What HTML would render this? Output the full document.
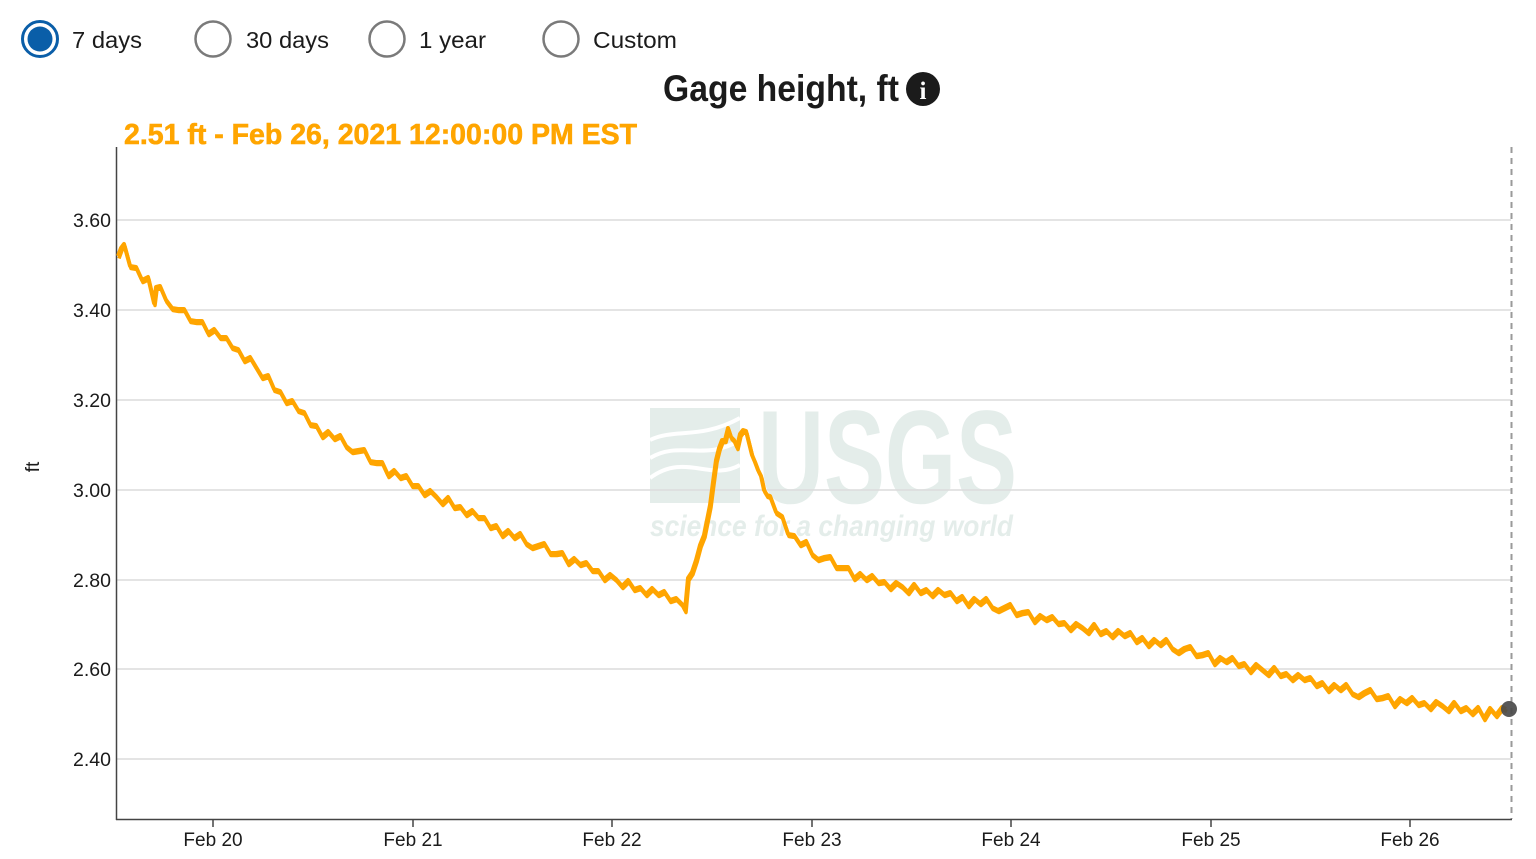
<!DOCTYPE html>
<html>
<head>
<meta charset="utf-8">
<style>
html,body{margin:0;padding:0;background:#fff;}
svg{display:block;}
</style>
</head>
<body>
<svg width="1536" height="859" viewBox="0 0 1536 859" xmlns="http://www.w3.org/2000/svg" font-family="'Liberation Sans', sans-serif">
  <defs>
    <path id="series" d="M118,256 L121,248 L124,244 L130,266 L136,267 L142,280 L148,277 L154,303 L156,287 L160,286 L166,300 L172,308 L178,309 L184,309 L190,320 L196,321 L202,321 L208,333 L214,329 L220,337 L226,337 L232,347 L238,349 L244,360 L250,357 L256,367 L262,377 L268,375 L274,389 L280,391 L286,402 L292,400 L298,410 L304,412 L310,424 L316,425 L322,436 L328,431 L334,438 L340,435 L346,446 L352,451 L358,450 L364,449 L370,461 L376,462 L382,462 L388,475 L394,470 L400,477 L406,475 L412,485 L418,485 L424,494 L430,490 L436,496 L442,503 L448,497 L454,507 L460,506 L466,514 L472,510 L478,517 L484,517 L490,527 L496,525 L502,535 L508,530 L514,537 L520,533 L526,543 L532,547 L538,545 L544,543 L550,553 L556,553 L562,552 L568,563 L574,558 L580,564 L586,562 L592,570 L598,570 L604,579 L610,574 L616,579 L622,586 L628,580 L634,589 L640,587 L646,594 L652,588 L658,594 L664,591 L670,600 L676,598 L682,604 L685,610 L688,578 L692,572 L696,560 L700,545 L704,535 L707,520 L710,505 L713,482 L716,460 L719,448 L722,440 L725,440 L728,428 L731,437 L734,440 L737,447 L740,434 L743,430 L746,431 L749,443 L752,455 L755,462 L758,470 L761,476 L764,490 L767,495 L770,496 L776,512 L782,516 L788,534 L794,535 L800,544 L806,541 L812,554 L818,559 L824,557 L830,556 L836,567 L842,567 L848,567 L854,578 L860,573 L866,579 L872,575 L878,582 L884,581 L890,588 L896,582 L902,586 L908,592 L914,584 L920,592 L926,589 L932,595 L938,589 L944,594 L950,592 L956,600 L962,596 L968,605 L974,598 L980,603 L986,598 L992,607 L998,610 L1004,607 L1010,604 L1016,614 L1022,612 L1028,611 L1034,621 L1040,615 L1046,619 L1052,616 L1058,623 L1064,622 L1070,629 L1076,623 L1082,627 L1088,632 L1094,624 L1100,633 L1106,630 L1112,636 L1118,630 L1124,635 L1130,632 L1136,641 L1142,637 L1148,645 L1154,639 L1160,644 L1166,639 L1172,648 L1178,652 L1184,648 L1190,646 L1196,655 L1202,654 L1208,652 L1214,663 L1220,657 L1226,661 L1232,657 L1238,665 L1244,663 L1250,671 L1256,664 L1262,669 L1268,674 L1274,667 L1280,675 L1286,673 L1292,679 L1298,674 L1304,679 L1310,677 L1316,685 L1322,682 L1328,690 L1334,684 L1340,689 L1346,684 L1352,693 L1358,696 L1364,692 L1370,689 L1376,698 L1382,697 L1388,695 L1394,705 L1400,698 L1406,702 L1412,697 L1418,704 L1424,702 L1430,708 L1436,701 L1442,705 L1448,710 L1454,702 L1460,710 L1466,707 L1472,713 L1478,707 L1484,718 L1490,708 L1496,715 L1502,707 L1506,709"/>
  </defs>
  <rect width="1536" height="859" fill="#fff"/>

  <!-- radio buttons -->
  <circle cx="40" cy="39" r="17.5" fill="#fff" stroke="#0a5ea8" stroke-width="3"/>
  <circle cx="40" cy="39" r="12.5" fill="#0a5ea8"/>
  <text x="72" y="48" font-size="23" fill="#1b1b1b" textLength="70" lengthAdjust="spacingAndGlyphs">7 days</text>

  <circle cx="213" cy="39" r="17.5" fill="#fff" stroke="#7a7a7a" stroke-width="2.5"/>
  <text x="246" y="48" font-size="23" fill="#1b1b1b" textLength="83" lengthAdjust="spacingAndGlyphs">30 days</text>

  <circle cx="387" cy="39" r="17.5" fill="#fff" stroke="#7a7a7a" stroke-width="2.5"/>
  <text x="419" y="48" font-size="23" fill="#1b1b1b" textLength="67" lengthAdjust="spacingAndGlyphs">1 year</text>

  <circle cx="561" cy="39" r="17.5" fill="#fff" stroke="#7a7a7a" stroke-width="2.5"/>
  <text x="593" y="48" font-size="23" fill="#1b1b1b" textLength="84" lengthAdjust="spacingAndGlyphs">Custom</text>

  <!-- title -->
  <text x="663" y="101" font-size="37" font-weight="bold" fill="#1b1b1b" textLength="236" lengthAdjust="spacingAndGlyphs">Gage height, ft</text>
  <circle cx="923" cy="89" r="17" fill="#1b1b1b"/>
  <text x="923" y="99" font-size="25" font-weight="bold" fill="#fff" text-anchor="middle" font-family="'Liberation Serif', serif">i</text>

  <!-- orange current value -->
  <text x="124" y="144" font-size="29" font-weight="bold" fill="#FFA500" stroke="#FFA500" stroke-width="0.6" textLength="513" lengthAdjust="spacingAndGlyphs">2.51 ft - Feb 26, 2021 12:00:00 PM EST</text>

  <!-- watermark -->
  <g fill="#e4edea">
    <rect x="650" y="408" width="90" height="95"/>
    <text x="758" y="503" font-size="133" font-weight="bold" textLength="259" lengthAdjust="spacingAndGlyphs">USGS</text>
    <text x="650" y="536" font-size="30" font-weight="bold" font-style="italic" textLength="363" lengthAdjust="spacingAndGlyphs">science for a changing world</text>
  </g>
  <g fill="none" stroke="#fff" stroke-width="4">
    <path d="M650,440 C675,428 700,440 740,418"/>
    <path d="M650,458 C680,440 705,462 740,440"/>
    <path d="M650,478 C685,452 710,482 740,465"/>
  </g>

  <!-- gridlines -->
  <g stroke="#dcdcdc" stroke-width="1.5">
    <line x1="117" y1="220" x2="1511" y2="220"/>
    <line x1="117" y1="310" x2="1511" y2="310"/>
    <line x1="117" y1="400" x2="1511" y2="400"/>
    <line x1="117" y1="490" x2="1511" y2="490"/>
    <line x1="117" y1="580" x2="1511" y2="580"/>
    <line x1="117" y1="669" x2="1511" y2="669"/>
    <line x1="117" y1="759" x2="1511" y2="759"/>
  </g>

  <!-- y tick labels -->
  <g font-size="19.5" fill="#1b1b1b" text-anchor="end">
    <text x="111" y="227">3.60</text>
    <text x="111" y="317">3.40</text>
    <text x="111" y="407">3.20</text>
    <text x="111" y="497">3.00</text>
    <text x="111" y="587">2.80</text>
    <text x="111" y="676">2.60</text>
    <text x="111" y="766">2.40</text>
  </g>
  <text x="39" y="467" font-size="19" fill="#1b1b1b" text-anchor="middle" transform="rotate(-90 39 467)">ft</text>

  <!-- dashed cursor line -->
  <line x1="1511.5" y1="147" x2="1511.5" y2="819" stroke="#9a9a9a" stroke-width="2" stroke-dasharray="6,5"/>

  <!-- axes -->
  <line x1="116.5" y1="147" x2="116.5" y2="820" stroke="#444" stroke-width="1.5"/>
  <line x1="116" y1="819.5" x2="1512" y2="819.5" stroke="#444" stroke-width="1.5"/>
  <g stroke="#444" stroke-width="1.5">
    <line x1="213" y1="819" x2="213" y2="827"/>
    <line x1="413" y1="819" x2="413" y2="827"/>
    <line x1="612" y1="819" x2="612" y2="827"/>
    <line x1="812" y1="819" x2="812" y2="827"/>
    <line x1="1011" y1="819" x2="1011" y2="827"/>
    <line x1="1211" y1="819" x2="1211" y2="827"/>
    <line x1="1410" y1="819" x2="1410" y2="827"/>
  </g>
  <g font-size="19" fill="#1b1b1b" text-anchor="middle">
    <text x="213" y="846">Feb 20</text>
    <text x="413" y="846">Feb 21</text>
    <text x="612" y="846">Feb 22</text>
    <text x="812" y="846">Feb 23</text>
    <text x="1011" y="846">Feb 24</text>
    <text x="1211" y="846">Feb 25</text>
    <text x="1410" y="846">Feb 26</text>
  </g>

  <!-- series -->
  <use href="#series" fill="none" stroke="#FFA500" stroke-width="3.5" stroke-linejoin="round" transform="translate(1,2.5)"/>
  <use href="#series" fill="none" stroke="#FFA500" stroke-width="4" stroke-linejoin="round"/>

  <!-- current point -->
  <circle cx="1509" cy="709" r="8" fill="#4a4a4a" fill-opacity="0.92"/>
</svg>
</body>
</html>
